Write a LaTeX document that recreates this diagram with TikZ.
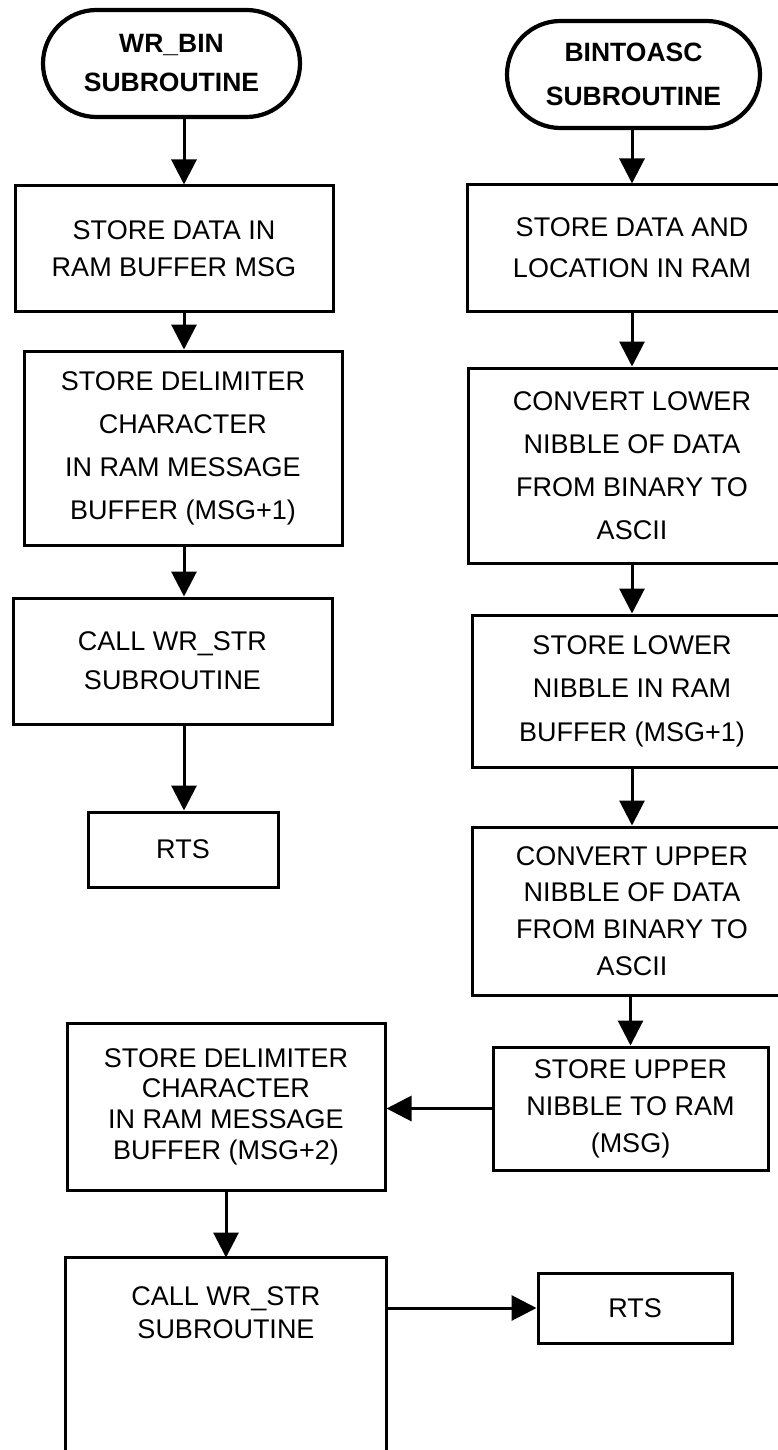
\documentclass[tikz,border=0pt]{standalone}
\usepackage{fontspec}
\setmainfont{Liberation Sans}
\usetikzlibrary{arrows.meta,shapes.misc}
\begin{document}
\begin{tikzpicture}[x=1pt,y=-1pt,
  box/.style={draw, line width=3pt, rectangle, inner sep=0pt, align=center},
  term/.style={draw, line width=4.2pt, rounded rectangle, inner sep=0pt, align=center},
  fs/.style={font=\fontsize{27}{#1}\selectfont},
  fsb/.style={font=\fontsize{26.5}{#1}\selectfont\bfseries},
  arr/.style={line width=3pt, -{Triangle[length=25pt,width=25pt]}}]
\useasboundingbox (0,0) rectangle (778,1450);
\clip (0,0) rectangle (778,1450);

% left column
\node[term, fsb=39, minimum width=257pt, minimum height=107pt] (T1) at (171.5,63.5) {WR\_BIN\\SUBROUTINE};
\node[box, fs=37, minimum width=318pt, minimum height=125pt] (L1) at (174,248.5) {STORE DATA IN\\RAM BUFFER MSG};
\node[box, fs=43, minimum width=318pt, minimum height=194pt] (L2) at (183,448) {STORE DELIMITER\\CHARACTER\\IN RAM MESSAGE\\BUFFER (MSG+1)};
\node[box, fs=39, minimum width=319pt, minimum height=126pt] (L3) at (172.5,661) {CALL WR\_STR\\SUBROUTINE};
\node[box, fs=39, minimum width=190pt, minimum height=75pt] (L4) at (183,849.5) {RTS};

% right column
\node[term, fsb=44, minimum width=253pt, minimum height=107pt] (T2) at (633.5,74.5) {BINTOASC\\SUBROUTINE};
\node[box, fs=41, minimum width=330pt, minimum height=126pt] (R1) at (632,248) {STORE DATA AND\\LOCATION IN RAM};
\node[box, fs=43, minimum width=328pt, minimum height=195pt] (R2) at (632,465.5) {CONVERT LOWER\\NIBBLE OF DATA\\FROM BINARY TO\\ASCII};
\node[box, fs=43.5, minimum width=320pt, minimum height=152pt] (R3) at (632,691) {STORE LOWER\\NIBBLE IN RAM\\BUFFER (MSG+1)};
\node[box, fs=36.7, minimum width=320pt, minimum height=168pt] (R4) at (632,911) {CONVERT UPPER\\NIBBLE OF DATA\\FROM BINARY TO\\ASCII};
\node[box, fs=37, minimum width=275pt, minimum height=123pt] (R5) at (630.5,1108.5) {STORE UPPER\\NIBBLE TO RAM\\(MSG)};

% bottom
\node[box, fs=30.7, minimum width=318pt, minimum height=167pt] (B1) at (226,1106.5) {STORE DELIMITER\\CHARACTER\\IN RAM MESSAGE\\BUFFER (MSG+2)};
\node[box, draw=none, fs=33, minimum width=318pt, minimum height=108pt] (B2) at (226,1313) {CALL WR\_STR\\SUBROUTINE};
\draw[line width=3pt] (B2.north west) rectangle ([yshift=-150pt]B2.south east);
\node[box, fs=33, minimum width=194pt, minimum height=70pt] (B3) at (635,1308) {RTS};

\coordinate (lx) at (184,0);
\draw[arr] (T1.south -| lx) -- (L1.north -| lx);
\draw[arr] (L1.south -| lx) -- (L2.north -| lx);
\draw[arr] (L2.south -| lx) -- (L3.north -| lx);
\draw[arr] (L3.south -| lx) -- (L4.north -| lx);

\draw[arr] (T2.south -| R1.north) -- (R1.north);
\draw[arr] (R1.south) -- (R2.north);
\draw[arr] (R2.south) -- (R3.north);
\draw[arr] (R3.south) -- (R4.north);
\draw[arr] (R4.south -| R5.north) -- (R5.north);
\draw[arr] (R5.west) -- (B1.east |- R5.west);
\draw[arr] (B1.south) -- (B2.north);
\draw[arr] (B2.east |- B3.west) -- (B3.west);
\end{tikzpicture}
\end{document}
